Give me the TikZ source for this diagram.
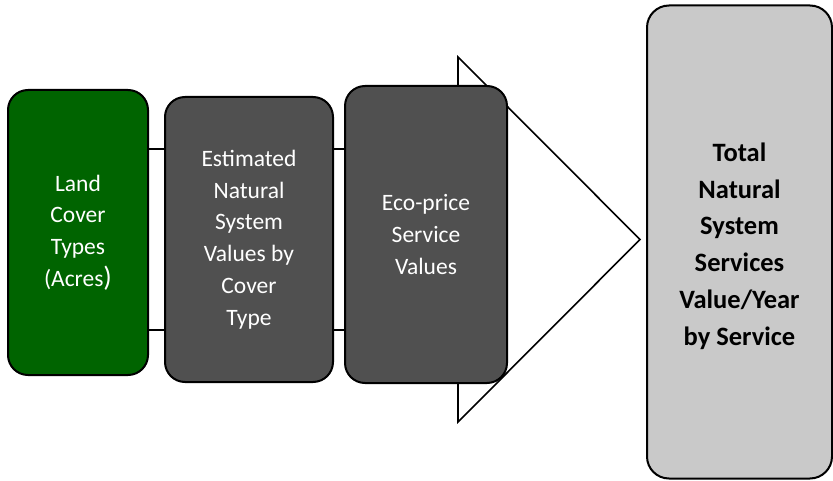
\documentclass[tikz,border=0pt]{standalone}
\usepackage{fontspec}
\setmainfont{Carlito}
\definecolor{landgreen}{HTML}{006400}
\definecolor{stepgray}{HTML}{505050}
\definecolor{totalgray}{HTML}{C9C9C9}
\begin{document}
\begin{tikzpicture}[x=1pt,y=1pt,
  stage/.style={draw=black, line width=2pt, rounded corners=20pt, align=center,
    text=white, font=\fontsize{23.5}{31.7}\selectfont, inner sep=0pt},
  total/.style={draw=black, line width=2pt, rounded corners=22pt,
    fill=totalgray, inner sep=0pt},
  totaltext/.style={align=center, text=black, inner sep=0pt,
    font=\fontsize{26.5}{36.8}\selectfont\bfseries}]
\useasboundingbox (0,0) rectangle (833,480);

% big process arrow behind the stage boxes
\coordinate (shaftL) at (78,331);
\coordinate (shaftLb) at (78,150);
\draw[line width=1.6pt, fill=white, line join=miter]
  (shaftL) -- (458,331) -- (458,423) -- (640,240.5) -- (458,58) -- (458,150) -- (shaftLb);

% stage boxes
\node[stage, fill=landgreen, minimum width=140, minimum height=285] (land) at (78,247.5)
  {Land\\Cover\\Types\\(Acres{\fontsize{28}{31.7}\selectfont )}};
\node[stage, fill=stepgray, minimum width=168, minimum height=285] (est) at (249,240.5)
  {Estimated\\Natural\\System\\Values by\\Cover\\Type};
\node[stage, fill=stepgray, minimum width=162, minimum height=297] (eco) at (426,245.5)
  {Eco-price\\Service\\Values};

% result box and its label
\node[total, minimum width=185, minimum height=473] (tot) at (739.5,238) {};
\node[totaltext] (totlabel) at ([yshift=-4]tot.center)
  {Total\\Natural\\System\\Services\\Value/Year\\by Service};
\end{tikzpicture}
\end{document}
